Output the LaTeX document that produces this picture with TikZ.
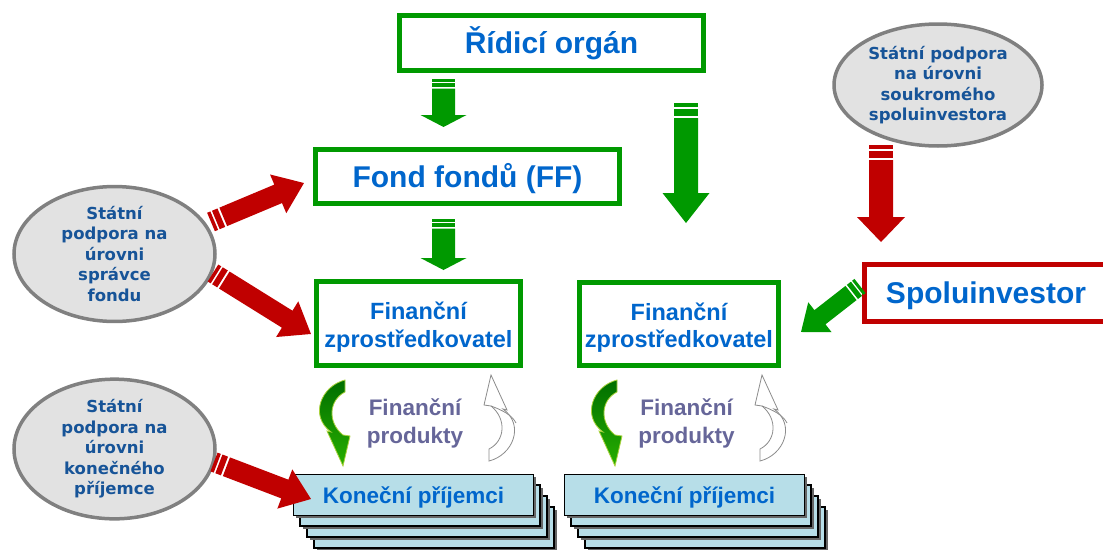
\documentclass[tikz,border=0pt]{standalone}
\usepackage{fontspec}
\setmainfont{Liberation Sans}
\newfontfamily\vfont{DejaVu Sans}
\usetikzlibrary{shapes.geometric}
\definecolor{gr}{RGB}{0,153,0}
\definecolor{rd}{RGB}{192,0,0}
\definecolor{bl}{RGB}{0,102,204}
\definecolor{ebl}{RGB}{23,84,152}
\definecolor{pur}{RGB}{102,102,153}
\definecolor{egray}{RGB}{128,128,128}
\definecolor{efill}{RGB}{226,226,226}
\definecolor{kfill}{RGB}{183,222,232}
\definecolor{dkgr}{RGB}{0,110,0}
\definecolor{ltgr}{RGB}{40,175,0}
\definecolor{ygr}{RGB}{170,210,60}
\definecolor{arrgray}{RGB}{140,140,140}

% block arrow: #1 colour, #2 tail coord, #3 tip coord, #4 shaft half width,
% #5 head half width, #6 head length, #7 stripe unit
\newcommand\barrow[7]{%
  \path (#2); \pgfgetlastxy{\bax}{\bay}%
  \path (#3); \pgfgetlastxy{\bbx}{\bby}%
  \pgfmathsetmacro\bang{atan2(\bby-\bay,\bbx-\bax)}%
  \pgfmathsetmacro\blen{veclen(\bbx-\bax,\bby-\bay)}%
  \begin{scope}[shift={(#2)},rotate=\bang,x=1pt,y=1pt]
    \fill[#1] (0,-#4) rectangle (#7,#4);
    \fill[#1] (1.5*#7,-#4) rectangle (3.2*#7,#4);
    \fill[#1] (3.8*#7,-#4) -- (\blen-#6,-#4) -- (\blen-#6,-#5) -- (\blen,0)
      -- (\blen-#6,#5) -- (\blen-#6,#4) -- (3.8*#7,#4) -- cycle;
  \end{scope}}

\newcommand\curvpath{(14,-42) .. controls (-10,-36) and (-22,-6) .. (0,10)
  -- (-4,9) -- (12,44) -- (19,14) -- (12,13)
  .. controls (-4,0) and (-2,-22) .. (14,-30) -- cycle}

\newcommand\kstack[3]{%
  \foreach \i in {3,2,1} {
    \fill[black!60] (#2+7*\i+3,#3+11*\i+3) rectangle ++(240,41);
    \draw[kstyle] (#2+7*\i,#3+11*\i) rectangle ++(240,41);
  }
  \fill[black!60] (#2+3,#3+3) rectangle ++(240,41);
  \node[kbox,anchor=north west] (#1) at (#2,#3) {Koneční příjemci};}

\tikzset{
  gbox/.style={draw=gr, line width=5pt, fill=white, text=bl, inner sep=0pt,
    font=\bfseries\fontsize{30}{36}\selectfont, text height=21.5pt, text depth=0pt},
  rbox/.style={gbox, draw=rd},
  fzbox/.style={draw=gr, line width=5pt, fill=white, text=bl, inner sep=0pt,
    align=center, font=\bfseries\fontsize{23.5}{27.5}\selectfont,
    text height=47pt, text depth=0pt},
  ell/.style={ellipse, draw=egray, line width=3.5pt, fill=efill, text=ebl,
    inner sep=0pt, align=center, font=\vfont\bfseries\fontsize{16.5}{20.5}\selectfont},
  kstyle/.style={fill=kfill, draw=black, line width=1.2pt},
  kbox/.style={kstyle, minimum width=240pt, minimum height=41pt, inner sep=0pt,
    text=bl, font=\bfseries\fontsize{22.5}{27}\selectfont, text height=16.1pt, text depth=0pt},
  prod/.style={text=pur, align=center, font=\bfseries\fontsize{22.5}{28}\selectfont},
}

\begin{document}
\begin{tikzpicture}[x=1pt,y=-1pt]
\useasboundingbox (0,0) rectangle (1103,549);

% boxes
\node[gbox, minimum width=304pt, minimum height=55pt] (ro) at (551.5,43) {Řídicí orgán};
\node[gbox, minimum width=304pt, minimum height=54pt] (ff) at (467.5,176.5) {Fond fondů (FF)};
\node[fzbox, minimum width=204pt, minimum height=84pt] (fz1) at (418.5,323.5) {Finanční\\zprostředkovatel};
\node[fzbox, minimum width=199pt, minimum height=83pt] (fz2) at (679,324) {Finanční\\zprostředkovatel};
\node[rbox, minimum width=243pt, minimum height=57pt] (sp) at (986,293) {Spoluinvestor};

% ellipses
\node[ell, minimum width=208pt, minimum height=122pt] (e1) at (938,85)
  {Státní podpora\\na úrovni\\soukromého\\spoluinvestora};
\node[ell, minimum width=201pt, minimum height=134pt] (e2) at (114.5,254)
  {Státní\\podpora na\\úrovni\\správce\\fondu};
\node[ell, minimum width=201pt, minimum height=132pt] (e3) at (114.5,449)
  {Státní\\podpora na\\úrovni\\konečného\\příjemce};

% stacks
\kstack{k1}{293}{474}
\kstack{k2}{564}{474}

% product labels
\node[prod] (p1) at (415,423) {Finanční\\produkty};
\node[prod] (p2) at (686.5,423) {Finanční\\produkty};

% curved arrows
\foreach \cx/\cy in {331/422, 603/422} {
  \begin{scope}[shift={(\cx,\cy)}]
    \shade[top color=dkgr, bottom color=ltgr, draw=ygr, line width=0.8pt] \curvpath;
  \end{scope}
}
\foreach \cx/\cy in {503/419, 774/419} {
  \begin{scope}[shift={(\cx,\cy)}, rotate=180]
    \draw[arrgray, fill=white, line width=0.8pt] \curvpath;
    \draw[arrgray, line width=0.8pt] (12,13) .. controls (1,9) and (-9,4) .. (-13,-4);
  \end{scope}
}

% arrow end points
\coordinate (a1s) at (443.5,79);  \coordinate (a1e) at (443.5,127);
\coordinate (a2s) at (686,103);   \coordinate (a2e) at (686,223);
\coordinate (a3s) at (443.5,219); \coordinate (a3e) at (443.5,270);
\coordinate (r1s) at (881,145);   \coordinate (r1e) at (881,242);
\coordinate (r2s) at (211,222);   \coordinate (r2e) at (304,183);
\coordinate (r3s) at (213,273);   \coordinate (r3e) at (311,334);
\coordinate (r4s) at (214,462);   \coordinate (r4e) at (311,499);
\coordinate (g4s) at (860,286);   \coordinate (g4e) at (801,332);

\barrow{gr}{a1s}{a1e}{11.5}{23}{12}{2.5}
\barrow{gr}{a2s}{a2e}{12}{23.5}{30}{4}
\barrow{gr}{a3s}{a3e}{11.5}{23}{12}{2.5}
\barrow{rd}{r1s}{r1e}{12}{24}{25}{4}
\barrow{rd}{r2s}{r2e}{10}{21}{28}{3.5}
\barrow{rd}{r3s}{r3e}{10}{21}{28}{3.5}
\barrow{rd}{r4s}{r4e}{10}{21}{28}{3.5}
\barrow{gr}{g4s}{g4e}{9}{19}{24}{3}
\end{tikzpicture}
\end{document}
